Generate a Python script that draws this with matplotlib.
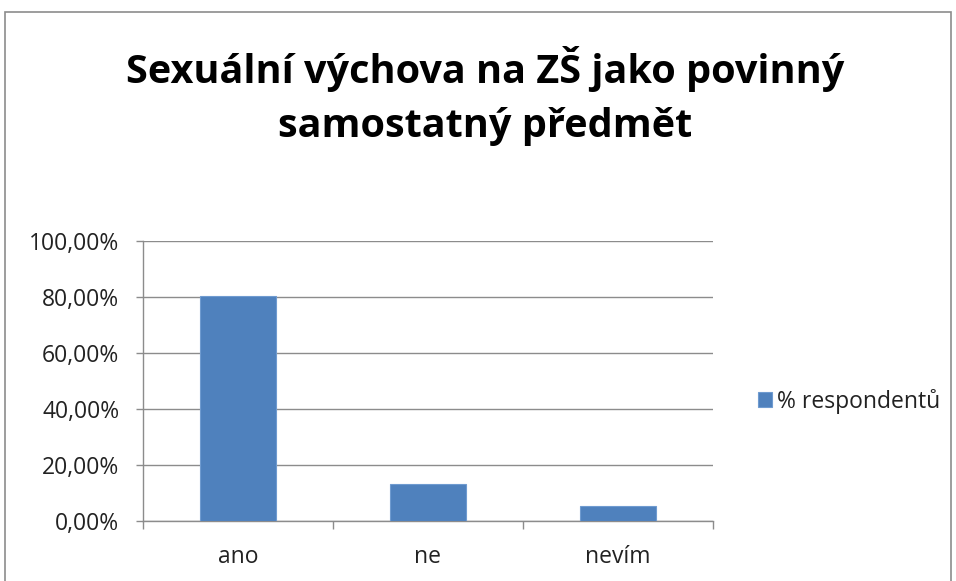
import matplotlib
matplotlib.use("Agg")
import matplotlib.pyplot as plt
from matplotlib.patches import Rectangle
from matplotlib.ticker import FuncFormatter, FixedLocator

categories = ["ano", "ne", "nevím"]
values = [80.2, 13.3, 5.5]
series_name = "% respondentů"
title = "Sexuální výchova na ZŠ jako povinný\nsamostatný předmět"
yticks = [0, 20, 40, 60, 80, 100]

plt.rcParams['font.family'] = ['Open Sans', 'DejaVu Sans']

W, H = 956, 581
fig = plt.figure(figsize=(W/100, H/100), dpi=100)
fig.patch.set_facecolor("white")

# chart border
fig.add_artist(Rectangle((5/W, -0.05), (951-5)/W, 1.05 - 12/H, transform=fig.transFigure,
                         fill=False, edgecolor="#8c8c8c", linewidth=1.2))

ax = fig.add_axes([143/W, 1-521/H, (713-143)/W, (521-241)/H])
x = list(range(len(categories)))
ax.bar(x, values, width=0.405, color="#4F81BD", edgecolor="#6f9bd0", linewidth=0.8,
       label=series_name, zorder=3)
ax.set_xlim(-0.5, len(categories)-0.5)
ax.set_ylim(0, 100)
ax.yaxis.set_major_locator(FixedLocator(yticks))
ax.yaxis.set_major_formatter(FuncFormatter(lambda v, p: f"{v:.2f}".replace(".", ",") + "%"))
ax.set_xticks(x)
ax.set_xticklabels(categories)
ax.set_xticks([i - 0.5 for i in range(len(categories)+1)], minor=True)
ax.tick_params(axis='x', which='major', length=0, pad=17, labelsize=16.5, labelcolor="#222222")
ax.tick_params(axis='x', which='minor', length=6, color="#8c8c8c", width=1)
ax.tick_params(axis='y', length=5, color="#8c8c8c", width=1, labelsize=16.5, labelcolor="#222222", pad=12)
ax.grid(axis='y', color="#8c8c8c", linewidth=1, zorder=0)
for s in ['top', 'right']:
    ax.spines[s].set_visible(False)
for s in ['left', 'bottom']:
    ax.spines[s].set_color("#8c8c8c")
    ax.spines[s].set_linewidth(1)

fig.text(485/W, 1-96/H, title, ha='center', va='center', fontsize=28.5, fontweight='bold',
         linespacing=1.5, color="black")

leg = fig.legend(loc='center left', bbox_to_anchor=(747/W, 1-401/H), frameon=False,
                 fontsize=16.5, handlelength=0.6, handleheight=0.6, handletextpad=0.2,
                 borderpad=0)
for t in leg.get_texts():
    t.set_color("#222222")

fig.savefig("out.png", dpi=100, facecolor="white")
